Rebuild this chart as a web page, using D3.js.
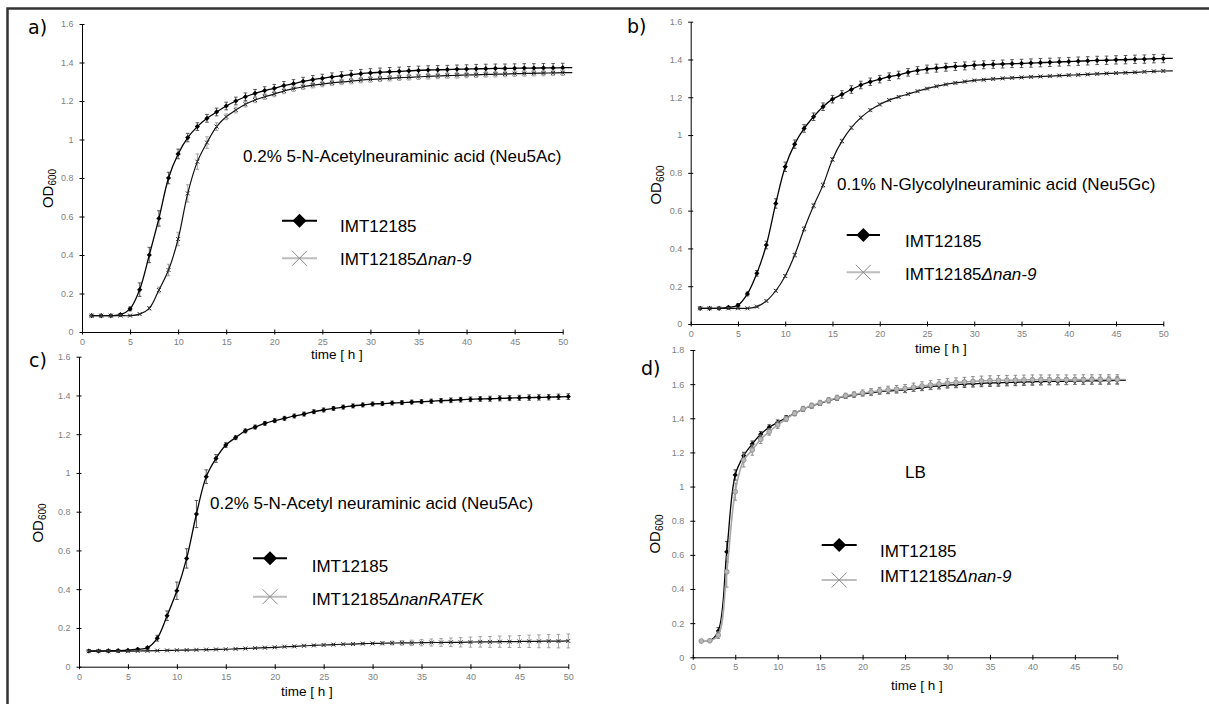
<!DOCTYPE html>
<html><head><meta charset="utf-8">
<script src="https://cdn.jsdelivr.net/npm/d3@7"></script>
<style>
body{margin:0;background:#fff}
svg{display:block}
text{font-family:"Liberation Sans",Arial,sans-serif}
</style>
</head><body>
<svg id="chart" width="1209" height="704"></svg>
<script>
// ---------- DATA ----------
const hours = d3.range(1, 52);           // sampling times (h)
const xTicks = [0,5,10,15,20,25,30,35,40,45,50];
const yTicks16 = [0,0.2,0.4,0.6,0.8,1,1.2,1.4,1.6];
const yTicks18 = [0,0.2,0.4,0.6,0.8,1,1.2,1.4,1.6,1.8];
const panelLabels = ["a)","b)","c)","d)"];
const conditions = ["0.2% 5-N-Acetylneuraminic acid (Neu5Ac)","0.1% N-Glycolylneuraminic acid (Neu5Gc)","0.2% 5-N-Acetyl neuraminic acid (Neu5Ac)","LB"];
const strainWT = "IMT12185";
const strainMut = ["nan-9","nan-9","nanRATEK","nan-9"];

const aWT = [.085,.085,.085,.090,.120,.220,.400,.590,.800,.925,
1.010,1.067,1.110,1.143,1.174,1.200,1.222,1.240,1.254,1.266,
1.280,1.290,1.302,1.311,1.318,1.325,1.331,1.337,1.342,1.346,
1.349,1.352,1.354,1.357,1.359,1.361,1.362,1.363,1.365,1.366,
1.367,1.368,1.369,1.369,1.370,1.371,1.371,1.372,1.372,1.373,1.373];
const aWTerr = [.004,.004,.004,.006,.010,.035,.040,.040,.030,.025,
.022,.020,.020,.020,.020,.020,.020,.020,.020,.020,
.021,.021,.021,.021,.021,.021,.021,.022,.022,.022,
.022,.022,.022,.022,.022,.022,.022,.022,.022,.022,
.023,.023,.023,.023,.023,.023,.023,.023,.023,.023];
const aMut = [.085,.085,.085,.085,.085,.093,.123,.218,.322,.483,
.720,.885,.984,1.067,1.118,1.153,1.183,1.205,1.222,1.236,
1.252,1.264,1.274,1.282,1.288,1.294,1.299,1.303,1.308,1.312,
1.315,1.318,1.321,1.323,1.326,1.328,1.330,1.332,1.333,1.335,
1.336,1.338,1.339,1.340,1.342,1.343,1.344,1.345,1.346,1.347,1.347];
const aMutErr = [.003,.003,.003,.003,.003,.004,.008,.015,.030,.035,
.045,.040,.030,.020,.015,.015,.014,.014,.014,.014,
.014,.014,.014,.014,.014,.014,.014,.014,.014,.014,
.014,.014,.014,.014,.014,.014,.014,.014,.014,.014,
.014,.014,.014,.014,.014,.014,.014,.014,.014,.014];

const bWT = [.083,.083,.083,.088,.099,.159,.268,.418,.638,.832,
.952,1.035,1.097,1.150,1.190,1.215,1.241,1.265,1.282,1.296,
1.309,1.318,1.332,1.342,1.349,1.354,1.359,1.363,1.366,1.370,
1.372,1.374,1.376,1.378,1.379,1.381,1.383,1.385,1.387,1.389,
1.391,1.393,1.395,1.396,1.398,1.399,1.401,1.402,1.404,1.405,1.406];
const bWTerr = [.004,.004,.004,.005,.008,.010,.015,.020,.025,.025,
.022,.020,.020,.020,.020,.020,.020,.020,.020,.020,
.020,.020,.020,.020,.021,.021,.021,.021,.021,.021,
.021,.021,.021,.021,.022,.022,.022,.022,.022,.022,
.022,.022,.022,.022,.022,.022,.022,.022,.022,.022];
const bMut = [.083,.083,.083,.083,.083,.083,.092,.122,.176,.254,
.365,.503,.626,.735,.871,.968,1.039,1.092,1.132,1.162,
1.185,1.202,1.217,1.232,1.246,1.258,1.268,1.276,1.283,1.289,
1.293,1.297,1.300,1.303,1.305,1.308,1.310,1.312,1.315,1.317,
1.319,1.321,1.324,1.326,1.328,1.330,1.332,1.335,1.337,1.339,1.340];
const bMutErr = [.003,.003,.003,.003,.003,.003,.004,.005,.006,.008,
.010,.012,.012,.012,.010,.010,.008,.008,.007,.007,
.006,.006,.006,.006,.006,.006,.006,.006,.006,.006,
.006,.006,.006,.006,.006,.006,.006,.006,.006,.006,
.006,.006,.006,.006,.006,.006,.006,.006,.006,.006];

const cWT = [.081,.081,.082,.083,.085,.090,.098,.147,.263,.392,
.559,.788,.981,1.075,1.144,1.182,1.217,1.237,1.256,1.270,
1.282,1.294,1.304,1.316,1.325,1.333,1.340,1.346,1.351,1.356,
1.358,1.361,1.363,1.366,1.368,1.370,1.373,1.375,1.378,1.380,
1.382,1.383,1.385,1.386,1.388,1.389,1.390,1.391,1.393,1.394];
const cWTerr = [.003,.003,.003,.003,.004,.005,.006,.015,.025,.045,
.050,.070,.035,.020,.012,.010,.010,.010,.010,.010,
.010,.010,.010,.010,.010,.010,.010,.010,.010,.010,
.010,.010,.010,.010,.010,.011,.011,.012,.012,.012,
.012,.013,.013,.013,.013,.014,.014,.014,.014,.015];
const cMut = [.080,.080,.080,.080,.080,.081,.082,.083,.084,.085,
.086,.087,.088,.089,.090,.092,.094,.096,.098,.100,
.103,.105,.108,.110,.112,.114,.116,.117,.119,.120,
.121,.122,.123,.123,.124,.125,.125,.126,.126,.127,
.128,.128,.129,.129,.130,.131,.131,.132,.132,.133];
const cMutErr = [.002,.002,.002,.002,.002,.002,.002,.002,.002,.002,
.002,.002,.002,.002,.002,.002,.003,.003,.003,.003,
.003,.004,.004,.004,.005,.005,.005,.005,.005,.005,
.008,.010,.012,.014,.016,.018,.020,.022,.024,.026,
.027,.028,.029,.030,.031,.032,.033,.034,.035,.036];

const dWT = [.095,.097,.154,.618,1.068,1.181,1.249,1.306,1.347,1.376,
1.403,1.429,1.454,1.472,1.487,1.503,1.517,1.528,1.536,1.544,
1.549,1.556,1.560,1.564,1.567,1.573,1.579,1.585,1.590,1.595,
1.597,1.600,1.602,1.605,1.607,1.608,1.610,1.611,1.613,1.614,
1.615,1.616,1.616,1.617,1.618,1.619,1.620,1.620,1.621,1.622,1.622];
const dWTerr = [.004,.004,.020,.060,.030,.020,.018,.016,.015,.014,
.013,.012,.012,.012,.012,.012,.012,.012,.012,.012,
.014,.014,.015,.015,.016,.016,.017,.017,.018,.018,
.018,.019,.019,.020,.020,.020,.020,.020,.020,.020,
.020,.020,.020,.020,.020,.020,.020,.020,.020,.020];
const dMut = [.095,.097,.130,.501,.970,1.155,1.214,1.277,1.321,1.361,
1.396,1.429,1.455,1.474,1.490,1.506,1.520,1.532,1.540,1.548,
1.554,1.561,1.566,1.570,1.574,1.582,1.589,1.595,1.601,1.606,
1.610,1.613,1.616,1.619,1.621,1.622,1.623,1.624,1.625,1.626,
1.626,1.626,1.626,1.626,1.626,1.627,1.627,1.627,1.627,1.627,1.627];
const dMutErr = [.004,.004,.020,.090,.050,.040,.030,.025,.020,.020,
.015,.015,.015,.015,.015,.015,.015,.015,.015,.018,
.020,.020,.022,.022,.024,.024,.025,.025,.026,.026,
.027,.027,.028,.028,.028,.028,.028,.028,.028,.028,
.028,.028,.028,.028,.028,.028,.028,.028,.028,.028];

// ---------- LAYOUT ----------
const svg = d3.select("#chart");
svg.append("rect").attr("x",7.5).attr("y",8.5).attr("width",1215).attr("height",710)
  .attr("fill","none").attr("stroke","#333").attr("stroke-width",2.5);

const panels = [
 {lab:panelLabels[0], labPos:[28,34], xr:[82,562.7], yr:[332,24], ymax:1.6, yt:yTicks16,
  wt:aWT, wtE:aWTerr, mut:aMut, mutE:aMutErr, cond:conditions[0], condPos:[243,162],
  od:[53,188.5], time:[337,359], leg:{x0:282,x1:317,y1:220.7,y2:258.3,tx:340,b1:231.5,b2:265}, mutName:strainMut[0], style:"ac"},
 {lab:panelLabels[1], labPos:[627,33], xr:[690.7,1163.3], yr:[324,21.7], ymax:1.6, yt:yTicks16,
  wt:bWT, wtE:bWTerr, mut:bMut, mutE:bMutErr, cond:conditions[1], condPos:[837,190],
  od:[661,185], time:[941,353], leg:{x0:846.7,x1:880,y1:235,y2:272.3,tx:905,b1:246.5,b2:280}, mutName:strainMut[1], style:"ac"},
 {lab:panelLabels[2], labPos:[29,367], xr:[79,568.3], yr:[666.7,356.7], ymax:1.6, yt:yTicks16,
  wt:cWT, wtE:cWTerr, mut:cMut, mutE:cMutErr, cond:conditions[2], condPos:[210,509],
  od:[43,523], time:[307,696], leg:{x0:253,x1:287,y1:558.3,y2:596.7,tx:311.7,b1:572,b2:604.5}, mutName:strainMut[2], style:"ac"},
 {lab:panelLabels[3], labPos:[641,375], xr:[692.8,1117.3], yr:[657.3,350], ymax:1.8, yt:yTicks18,
  wt:dWT, wtE:dWTerr, mut:dMut, mutE:dMutErr, cond:conditions[3], condPos:[905,478],
  od:[660,534], time:[917,690], leg:{x0:821.7,x1:856.7,y1:545,y2:580,tx:880,b1:557,b2:582}, mutName:strainMut[3], style:"d"}
];

const diamond = (s) => `M0,${-s}L${s},0L0,${s}L${-s},0Z`;
const cross = (s) => `M${-s},${-s}L${s},${s}M${-s},${s}L${s},${-s}`;

panels.forEach(p => {
  const g = svg.append("g");
  const x = d3.scaleLinear().domain([0,50]).range(p.xr);
  const y = d3.scaleLinear().domain([0,p.ymax]).range(p.yr);

  // axes
  const ax = g.append("g").attr("transform",`translate(0,${p.yr[0]})`)
    .call(d3.axisBottom(x).tickValues(xTicks).tickSizeInner(2.5).tickSizeOuter(0).tickPadding(4));
  ax.selectAll(".tick line").attr("y1",-2.5);
  const ay = g.append("g").attr("transform",`translate(${p.xr[0]},0)`)
    .call(d3.axisLeft(y).tickValues(p.yt).tickFormat(v=>String(+v.toFixed(1))).tickSizeInner(2.5).tickSizeOuter(0).tickPadding(6));
  ay.selectAll(".tick line").attr("x1",2.5);
  [ax,ay].forEach(a=>{
    a.selectAll("text").attr("fill","#808080").style("font-size","9px").style("font-family","'Liberation Sans',Arial,sans-serif");
    a.select(".domain").attr("stroke","#000");
    a.selectAll(".tick line").attr("stroke","#000");
  });

  const isD = p.style === "d";
  const series = [
    {v:p.wt, e:p.wtE, line:"#000", lw:1.3, err:isD?"#333":"#444", mk:"diamond"},
    {v:p.mut, e:p.mutE, line:isD?"#a6a6a6":"#111", lw:isD?1.6:1.2, err:isD?"#808080":"#999", mk:isD?"circle":"cross"}
  ];
  series.forEach(s => {
    const pts = hours.slice(0, s.v.length).map((t,i)=>({t, v:s.v[i]}));
    const mpts = pts.filter(d=>d.t<=50).map((d,i)=>({...d, e:s.e[i]}));
    // error bars
    const eg = g.append("g").attr("stroke",s.err).attr("stroke-width",0.9).attr("fill","none");
    eg.selectAll("path").data(mpts).join("path")
      .attr("d", d => {
        const cx = x(d.t), y1 = y(d.v + d.e), y2 = y(d.v - d.e);
        return `M${cx},${y1}V${y2}M${cx-1.8},${y1}H${cx+1.8}M${cx-1.8},${y2}H${cx+1.8}`;
      });
    // line
    g.append("path").datum(pts)
      .attr("d", d3.line().x(d=>x(d.t)).y(d=>y(d.v)).curve(d3.curveCatmullRom.alpha(0.5)))
      .attr("fill","none").attr("stroke",s.line).attr("stroke-width",s.lw);
    // markers
    const mg = g.append("g");
    if (s.mk === "diamond") {
      mg.selectAll("path").data(mpts).join("path")
        .attr("transform", d=>`translate(${x(d.t)},${y(d.v)})`)
        .attr("d", diamond(2.6)).attr("fill","#000");
    } else if (s.mk === "cross") {
      mg.selectAll("path").data(mpts).join("path")
        .attr("transform", d=>`translate(${x(d.t)},${y(d.v)})`)
        .attr("d", cross(2)).attr("fill","none").attr("stroke","#333").attr("stroke-width",1);
    } else {
      mg.selectAll("circle").data(mpts).join("circle")
        .attr("cx", d=>x(d.t)).attr("cy", d=>y(d.v)).attr("r",2.4)
        .attr("fill","#b8b8b8").attr("stroke","#8c8c8c").attr("stroke-width",0.8);
    }
  });

  // labels
  g.append("text").attr("x",p.labPos[0]).attr("y",p.labPos[1]).text(p.lab)
    .style("font-family","'DejaVu Sans',Verdana,sans-serif").style("font-size","19px").attr("fill","#000");
  g.append("text").attr("x",p.condPos[0]).attr("y",p.condPos[1]).text(p.cond)
    .style("font-size","17px").attr("fill","#000");
  const od = g.append("text").attr("transform",`translate(${p.od[0]},${p.od[1]}) rotate(-90)`)
    .attr("text-anchor","middle").style("font-size","15px").attr("fill","#000");
  od.append("tspan").text("OD");
  od.append("tspan").text("600").style("font-size","10px").attr("dy","3");
  g.append("text").attr("x",p.time[0]).attr("y",p.time[1]).attr("text-anchor","middle")
    .text("time [ h ]").style("font-size","13.5px").attr("fill","#000");

  // legend
  const L = p.leg;
  g.append("line").attr("x1",L.x0).attr("x2",L.x1).attr("y1",L.y1).attr("y2",L.y1)
    .attr("stroke","#000").attr("stroke-width",2);
  g.append("path").attr("transform",`translate(${(L.x0+L.x1)/2},${L.y1})`).attr("d",diamond(7)).attr("fill","#000");
  g.append("line").attr("x1",L.x0).attr("x2",L.x1).attr("y1",L.y2).attr("y2",L.y2)
    .attr("stroke","#bdbdbd").attr("stroke-width",2);
  g.append("path").attr("transform",`translate(${(L.x0+L.x1)/2},${L.y2})`).attr("d",cross(7.5))
    .attr("fill","none").attr("stroke","#8a8a8a").attr("stroke-width",1);
  g.append("text").attr("x",L.tx).attr("y",L.b1).text(strainWT).style("font-size","17px").attr("fill","#000");
  const t2 = g.append("text").attr("x",L.tx).attr("y",L.b2).style("font-size","17px").attr("fill","#000");
  t2.append("tspan").text(strainWT);
  t2.append("tspan").text("Δ" + p.mutName).style("font-style","italic");
});
</script>
</body></html>
